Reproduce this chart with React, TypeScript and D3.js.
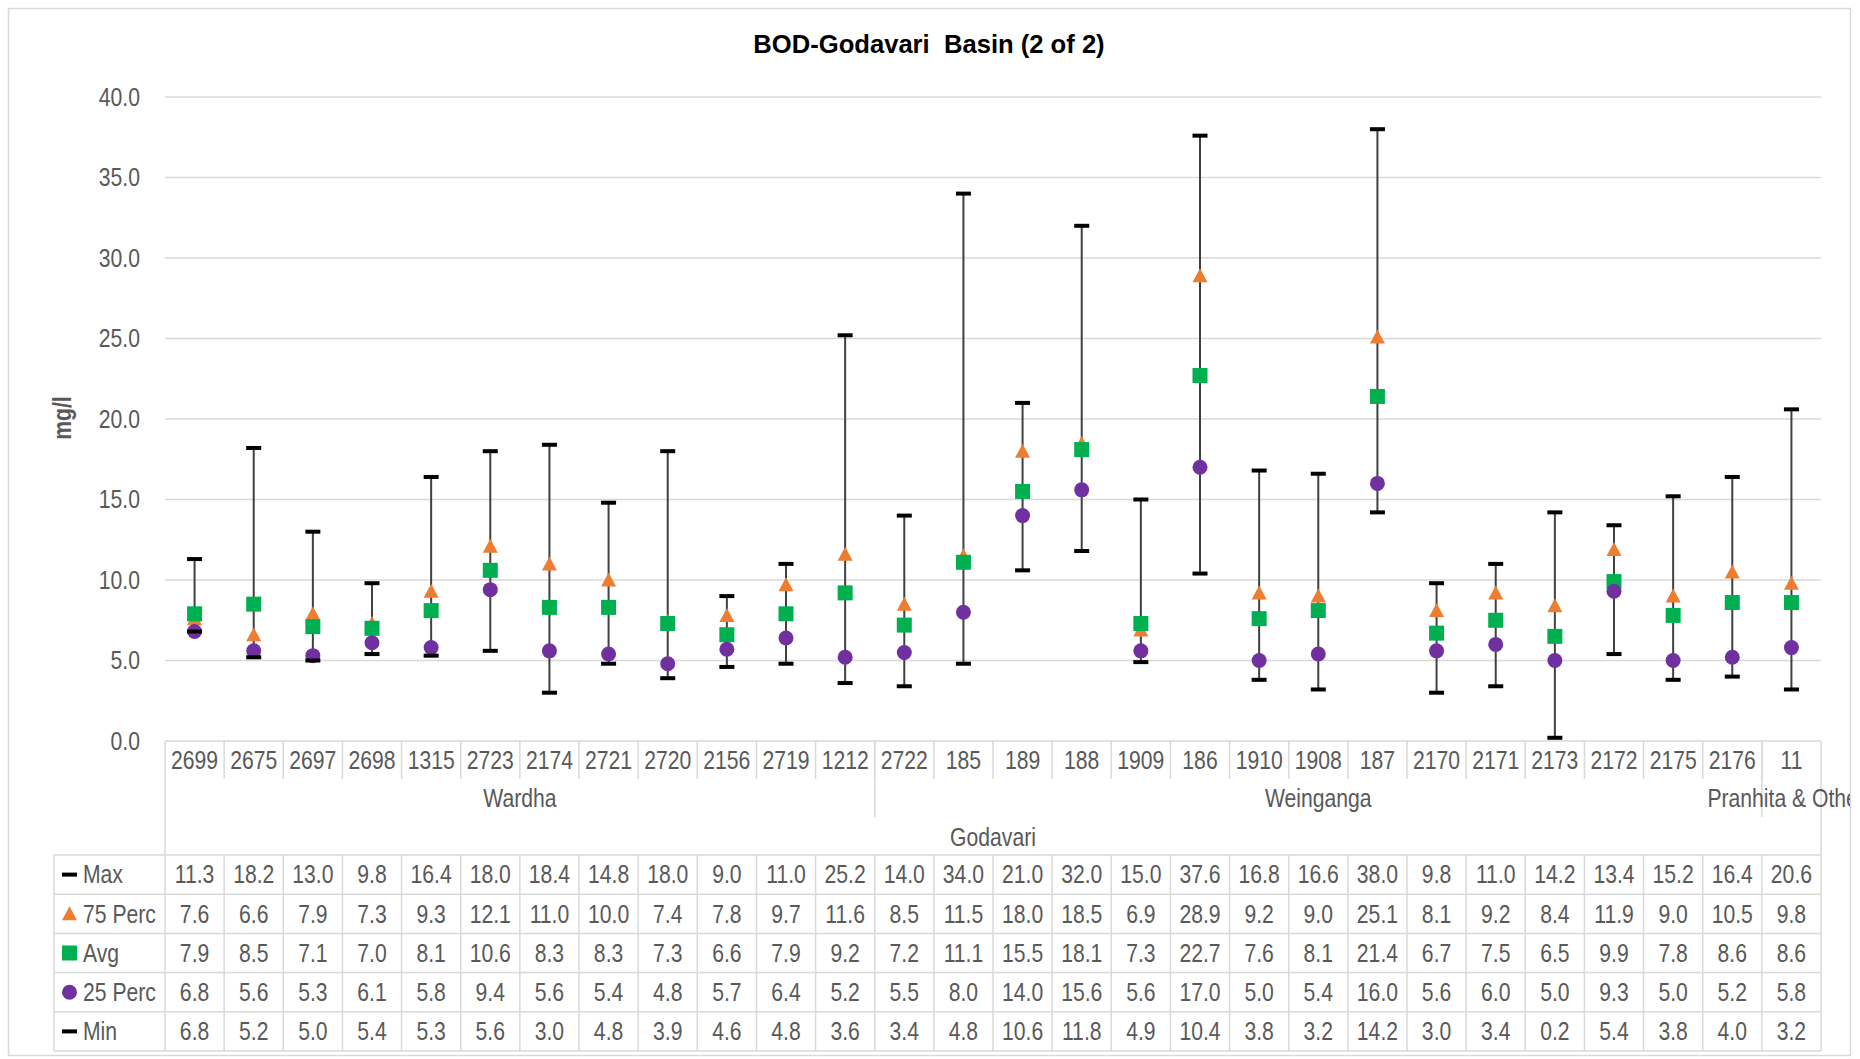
import React from "react";
import * as d3 from "d3";

// station codes on the inner level of the category axis
const stations = [
  "2699", "2675", "2697", "2698", "1315", "2723", "2174", "2721", "2720", "2156", "2719", "1212",
  "2722", "185", "189", "188", "1909", "186", "1910", "1908", "187", "2170", "2171", "2173",
  "2172", "2175", "2176", "11",
];
// sub-basin groups (middle level) with number of stations in each
const subBasins = [
  { name: "Wardha", count: 12 },
  { name: "Weinganga", count: 15 },
  { name: "Pranhita & Others", count: 1 },
];
const basin = "Godavari";

const maxVals = [11.3, 18.2, 13.0, 9.8, 16.4, 18.0, 18.4, 14.8, 18.0, 9.0, 11.0, 25.2, 14.0, 34.0, 21.0, 32.0, 15.0, 37.6, 16.8, 16.6, 38.0, 9.8, 11.0, 14.2, 13.4, 15.2, 16.4, 20.6];
const p75Vals = [7.6, 6.6, 7.9, 7.3, 9.3, 12.1, 11.0, 10.0, 7.4, 7.8, 9.7, 11.6, 8.5, 11.5, 18.0, 18.5, 6.9, 28.9, 9.2, 9.0, 25.1, 8.1, 9.2, 8.4, 11.9, 9.0, 10.5, 9.8];
const avgVals = [7.9, 8.5, 7.1, 7.0, 8.1, 10.6, 8.3, 8.3, 7.3, 6.6, 7.9, 9.2, 7.2, 11.1, 15.5, 18.1, 7.3, 22.7, 7.6, 8.1, 21.4, 6.7, 7.5, 6.5, 9.9, 7.8, 8.6, 8.6];
const p25Vals = [6.8, 5.6, 5.3, 6.1, 5.8, 9.4, 5.6, 5.4, 4.8, 5.7, 6.4, 5.2, 5.5, 8.0, 14.0, 15.6, 5.6, 17.0, 5.0, 5.4, 16.0, 5.6, 6.0, 5.0, 9.3, 5.0, 5.2, 5.8];
const minVals = [6.8, 5.2, 5.0, 5.4, 5.3, 5.6, 3.0, 4.8, 3.9, 4.6, 4.8, 3.6, 3.4, 4.8, 10.6, 11.8, 4.9, 10.4, 3.8, 3.2, 14.2, 3.0, 3.4, 0.2, 5.4, 3.8, 4.0, 3.2];

const yTicks = [0, 5, 10, 15, 20, 25, 30, 35, 40];

const seriesRows = [
  { name: "Max", values: maxVals, shape: "dash", color: "#000000" },
  { name: "75 Perc", values: p75Vals, shape: "triangle", color: "#ED7D31" },
  { name: "Avg", values: avgVals, shape: "square", color: "#00B050" },
  { name: "25 Perc", values: p25Vals, shape: "circle", color: "#7030A0" },
  { name: "Min", values: minVals, shape: "dash", color: "#000000" },
];

const W = 1860;
const H = 1059;
const FONT = "'Liberation Sans', Arial, sans-serif";
const TXT = "#595959";
const GRID = "#d9d9d9";
const FS = 25.8;

const plotLeft = 165;
const plotRight = 1821;
const plotTop = 97;
const plotBottom = 741;
const tableLeft = 54;
const tableTop = 855;
const rowH = 39.2;

// Arial-Narrow look: Liberation Sans squeezed horizontally
function NText({ x, y, anchor = "middle", weight, rotate = 0, children }: any) {
  const rot = rotate ? ` rotate(${rotate})` : "";
  return (
    <text
      transform={`translate(${x},${y})${rot} scale(0.82,1)`}
      textAnchor={anchor}
      dominantBaseline="central"
      fontSize={FS}
      fontWeight={weight}
      fill={TXT}
    >
      {children}
    </text>
  );
}

function Marker({ shape, color, x, y }: { shape: string; color: string; x: number; y: number }) {
  if (shape === "dash") return <rect x={x - 7.5} y={y - 2} width={15} height={4} fill={color} />;
  if (shape === "square") return <rect x={x - 7.5} y={y - 7.5} width={15} height={15} fill={color} />;
  if (shape === "circle") return <circle cx={x} cy={y} r={7.5} fill={color} />;
  const tri = `M${x},${y - 7.5}L${x + 7.5},${y + 6.5}L${x - 7.5},${y + 6.5}Z`;
  return <path d={tri} fill={color} />;
}

export default function App() {
  const x = d3.scaleBand<string>().domain(stations).range([plotLeft, plotRight]).padding(0);
  const y = d3.scaleLinear().domain([0, 40]).range([plotBottom, plotTop]);
  const bw = x.bandwidth();
  const cx = (s: string) => (x(s) as number) + bw / 2;

  // group boundaries
  let acc = 0;
  const groups = subBasins.map((g) => {
    const start = plotLeft + acc * bw;
    acc += g.count;
    return { ...g, start, end: plotLeft + acc * bw };
  });

  const tableBottom = tableTop + rowH * seriesRows.length;

  return (
    <div style={{ position: "absolute", left: 0, top: 0 }}>
      <svg width={W} height={H} style={{ display: "block", fontFamily: FONT }}>
        <defs>
          <clipPath id="chartClip">
            <rect x={8} y={8} width={1842} height={1047} />
          </clipPath>
        </defs>
        <rect x={0} y={0} width={W} height={H} fill="#fff" />
        <rect x={8.5} y={8.5} width={1842} height={1047} fill="#fff" stroke={GRID} strokeWidth={1.5} />

        <text x={929} y={53} textAnchor="middle" fontSize={25.6} fontWeight="bold" fill="#000">
          BOD-Godavari{"\u00a0\u00a0"}Basin (2 of 2)
        </text>

        <NText x={62} y={(plotTop + plotBottom) / 2 - 1} rotate={-90} weight="bold">
          mg/l
        </NText>

        {/* gridlines + y ticks */}
        {yTicks.map((t) => (
          <g key={t}>
            {t > 0 && (
              <line x1={plotLeft} x2={plotRight} y1={y(t)} y2={y(t)} stroke={GRID} strokeWidth={1.5} />
            )}
            <NText x={140} y={y(t)} anchor="end">
              {t.toFixed(1)}
            </NText>
          </g>
        ))}

        {/* category axis */}
        <g stroke={GRID} strokeWidth={1.5}>
          <line x1={plotLeft} x2={plotRight} y1={plotBottom} y2={plotBottom} />
          {stations.slice(1).map((s) => (
            <line key={s} x1={x(s)} x2={x(s)} y1={plotBottom} y2={779} />
          ))}
          {groups.slice(1).map((g) => (
            <line key={g.name} x1={g.start} x2={g.start} y1={plotBottom} y2={817} />
          ))}
          <line x1={plotLeft} x2={plotLeft} y1={plotBottom} y2={tableBottom} />
          <line x1={plotRight} x2={plotRight} y1={plotBottom} y2={tableBottom} />
        </g>
        {stations.map((s) => (
          <NText key={s} x={cx(s)} y={760}>
            {s}
          </NText>
        ))}
        <g clipPath="url(#chartClip)">
          {groups.map((g) => (
            <NText key={g.name} x={(g.start + g.end) / 2} y={798}>
              {g.name}
            </NText>
          ))}
        </g>
        <NText x={(plotLeft + plotRight) / 2} y={837}>
          {basin}
        </NText>

        {/* data table */}
        <g stroke={GRID} strokeWidth={1.5}>
          {d3.range(seriesRows.length + 1).map((i) => (
            <line key={i} x1={tableLeft} x2={plotRight} y1={tableTop + i * rowH} y2={tableTop + i * rowH} />
          ))}
          <line x1={tableLeft} x2={tableLeft} y1={tableTop} y2={tableBottom} />
          {stations.slice(1).map((s) => (
            <line key={s} x1={x(s)} x2={x(s)} y1={tableTop} y2={tableBottom} />
          ))}
        </g>
        {seriesRows.map((r, i) => {
          const yc = tableTop + i * rowH + rowH / 2;
          return (
            <g key={r.name}>
              <Marker shape={r.shape} color={r.color} x={69.5} y={yc} />
              <NText x={83} y={yc} anchor="start">
                {r.name}
              </NText>
              {stations.map((s, j) => (
                <NText key={s} x={cx(s)} y={yc}>
                  {r.values[j].toFixed(1)}
                </NText>
              ))}
            </g>
          );
        })}

        {/* high-low lines */}
        {stations.map((s, j) => (
          <line key={s} x1={cx(s)} x2={cx(s)} y1={y(minVals[j])} y2={y(maxVals[j])} stroke="#404040" strokeWidth={2} />
        ))}
        {/* markers */}
        {seriesRows.map((r) => (
          <g key={r.name}>
            {stations.map((s, j) => (
              <Marker key={s} shape={r.shape} color={r.color} x={cx(s)} y={y(r.values[j])} />
            ))}
          </g>
        ))}
      </svg>
    </div>
  );
}
